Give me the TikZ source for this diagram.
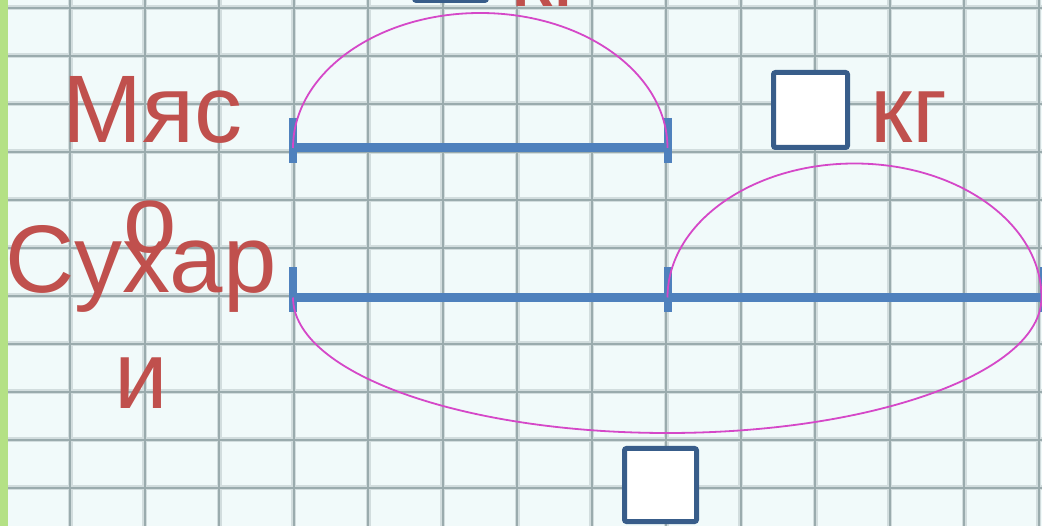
\documentclass[tikz,border=0pt]{standalone}
\usepackage{fontspec}
\setmainfont{Liberation Sans}
\definecolor{txtred}{HTML}{C0504D}
\definecolor{segblue}{HTML}{4F81BD}
\definecolor{boxblue}{HTML}{385D8A}
\definecolor{arcmag}{HTML}{D548C8}
\definecolor{gridc}{HTML}{9AABAD}
\definecolor{gridsoft}{HTML}{D2DDDE}
\definecolor{paper}{HTML}{F1FAFA}
\definecolor{edgegreen}{HTML}{B4E185}
\begin{document}
\begin{tikzpicture}[x=1pt,y=-1pt,
  lbl/.style={text=txtred, font=\fontsize{96}{110}\selectfont, anchor=base, inner sep=0pt},
  seg/.style={segblue, line width=9pt},
  tickmark/.style={segblue, line width=8pt},
  ansbox/.style={draw=boxblue, line width=5pt, fill=white, rounded corners=2pt, inner sep=0pt},
  brace/.style={arcmag, line width=1.8pt},
  gridline/.style={gridc, line width=2pt},
  gridhalo/.style={gridsoft, line width=5pt}]
\useasboundingbox (0,0) rectangle (1042,526);
\begin{scope}
\clip (0,0) rectangle (1042,526);
\fill[paper] (0,0) rectangle (1042,526);
% grid
\foreach \i in {0,...,13} {
  \draw[gridhalo] ({70+74.5*\i},0) -- ({70+74.5*\i},526);
}
\foreach \j in {0,...,10} {
  \draw[gridhalo] (0,{8+48*\j}) -- (1042,{8+48*\j});
}
\foreach \i in {0,...,13} {
  \draw[gridline] ({70+74.5*\i},0) -- ({70+74.5*\i},526);
}
\foreach \j in {0,...,10} {
  \draw[gridline] (0,{8+48*\j}) -- (1042,{8+48*\j});
}
\fill[edgegreen] (0,0) rectangle (7.5,526);

% coordinates of the segments
\coordinate (A1) at (293,148);
\coordinate (A2) at (667.5,148);
\coordinate (B1) at (293,297.5);
\coordinate (B2) at (667.5,297.5);
\coordinate (B3) at (1044,297.5);

% segments
\draw[seg] (A1) -- (A2);
\draw[seg] (B1) -- (B3);
\foreach \p in {A1,A2,B1,B2,B3} {
  \draw[tickmark] (\p) ++(0,-30) -- ++(0,45);
}

% arcs
\draw[brace] (A1) arc[start angle=180, end angle=360, x radius=187.25, y radius=135];
\draw[brace] (B2) arc[start angle=180, end angle=360, x radius=187, y radius=134]
  arc[start angle=0, end angle=180, x radius=374.25, y radius=135.5];

% boxes
\node[ansbox, minimum width=72pt, minimum height=73pt] (boxtop) at (450.5,-36) {};
\node[ansbox, minimum width=74pt, minimum height=75pt] (boxmeat) at (810.5,110) {};
\node[ansbox, minimum width=72pt, minimum height=73pt] (boxsum) at (660.5,485) {};

% labels
\node[lbl] (kgtop) at (549,7) {кг};
\node[lbl] (kgmeat) at (909,143) {кг};
\node[lbl] (meat1) at (152.5,143) {Мяс};
\node[lbl] (meat2) at (150,253) {о};
\node[lbl] (rusk1) at (141,293) {Сухар};
\node[lbl] (rusk2) at (141,409) {и};
\end{scope}
\end{tikzpicture}
\end{document}
